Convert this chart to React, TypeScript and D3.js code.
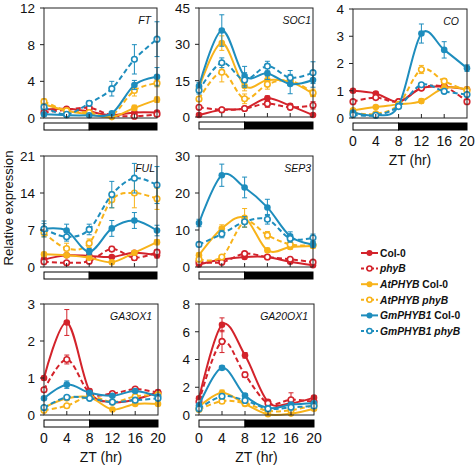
import React from "react";
import * as d3 from "d3";

const ZT = [0, 4, 8, 12, 16, 20];
const SERIES = ["Col-0", "phyB", "AtPHYB Col-0", "AtPHYB phyB", "GmPHYB1 Col-0", "GmPHYB1 phyB"];

// FT
const ftMean = [
  [0.9, 1.0, 0.7, 0.3, 0.6, 0.6],
  [0.6, 0.9, 1.1, 0.3, 0.2, 0.4],
  [1.5, 0.8, 0.4, 0.1, 1.1, 2.0],
  [1.8, 0.8, 0.6, 0.3, 3.0, 3.8],
  [0.4, 0.3, 0.3, 0.5, 3.6, 4.5],
  [1.2, 0.4, 1.6, 3.2, 6.4, 8.6],
];
const ftErr = [
  [0.1, 0.1, 0.1, 0.05, 0.1, 0.1],
  [0.1, 0.1, 0.15, 0.1, 0.1, 0.1],
  [0.2, 0.1, 0.1, 0.05, 0.3, 0.3],
  [0.3, 0.1, 0.1, 0.1, 0.6, 0.4],
  [0.2, 0.05, 0.05, 0.1, 0.5, 1.0],
  [0.3, 0.1, 0.3, 0.8, 1.6, 1.9],
];
// SOC1
const soc1Mean = [
  [0.8, 3.0, 3.5, 7.7, 4.6, 0.8],
  [4.0, 3.0, 3.5, 5.5, 4.0, 4.8],
  [12.0, 30.5, 12.8, 15.3, 14.5, 9.6],
  [7.4, 18.5, 7.5, 13.5, 15.0, 10.0],
  [12.8, 35.7, 16.9, 18.0, 13.6, 15.3],
  [11.0, 22.4, 15.3, 21.0, 16.2, 18.3],
];
const soc1Err = [
  [0.5, 0.5, 0.6, 1.0, 0.8, 0.5],
  [0.8, 0.6, 0.6, 1.5, 0.8, 1.5],
  [1.5, 3.0, 2.0, 1.5, 1.5, 1.2],
  [1.0, 4.0, 2.0, 2.0, 1.5, 1.5],
  [1.5, 6.5, 4.0, 2.5, 4.0, 3.0],
  [1.5, 2.0, 3.0, 2.0, 3.0, 4.5],
];
// CO
const coMean = [
  [1.0, 0.9, 0.6, 1.1, 1.15, 1.05],
  [0.6, 0.75, 0.6, 1.1, 1.15, 0.6],
  [0.28, 0.4, 0.5, 0.62, 1.1, 1.05],
  [0.2, 0.15, 0.5, 1.78, 1.35, 1.0],
  [0.2, 0.1, 0.45, 3.1, 2.5, 1.83],
  [0.12, 0.1, 0.42, 1.22, 0.98, 0.86],
];
const coErr = [
  [0.05, 0.06, 0.05, 0.05, 0.05, 0.04],
  [0.05, 0.05, 0.05, 0.05, 0.05, 0.05],
  [0.04, 0.05, 0.05, 0.08, 0.08, 0.05],
  [0.03, 0.03, 0.05, 0.15, 0.1, 0.08],
  [0.04, 0.03, 0.05, 0.35, 0.3, 0.12],
  [0.03, 0.03, 0.05, 0.08, 0.06, 0.05],
];
// FUL
const fulMean = [
  [1.4, 2.2, 2.1, 1.9, 2.7, 2.2],
  [1.0, 0.8, 1.1, 3.4, 1.75, 2.8],
  [2.4, 2.2, 1.75, 0.9, 2.7, 4.7],
  [6.5, 3.5, 4.5, 12.7, 14.0, 12.9],
  [7.2, 6.9, 2.9, 7.3, 8.8, 6.9],
  [7.2, 5.7, 7.1, 13.7, 16.8, 15.5],
];
const fulErr = [
  [0.5, 0.3, 0.3, 0.3, 0.3, 0.5],
  [0.3, 0.3, 0.3, 0.5, 0.5, 0.5],
  [0.4, 0.3, 0.3, 0.3, 0.4, 0.5],
  [0.8, 1.0, 0.8, 1.5, 2.8, 2.0],
  [1.5, 1.2, 0.6, 1.5, 1.5, 1.0],
  [1.0, 0.8, 1.0, 2.5, 2.8, 3.5],
];
// SEP3
const sep3Mean = [
  [0.7, 2.0, 2.7, 2.7, 1.4, 0.5],
  [1.3, 1.3, 3.6, 2.7, 2.1, 1.3],
  [3.2, 10.4, 13.3, 4.5, 5.4, 5.7],
  [2.1, 2.7, 12.2, 8.6, 6.1, 5.9],
  [11.9, 24.8, 21.5, 16.1, 8.3, 6.1],
  [6.1, 8.9, 12.2, 12.9, 7.7, 7.9],
];
const sep3Err = [
  [0.3, 0.3, 0.5, 0.4, 0.3, 0.3],
  [0.3, 0.5, 0.6, 0.5, 0.4, 0.4],
  [0.6, 1.0, 2.5, 0.6, 0.6, 0.5],
  [0.3, 0.4, 1.5, 1.0, 0.7, 0.6],
  [1.0, 3.0, 2.8, 2.2, 1.2, 0.8],
  [0.6, 1.0, 1.4, 1.3, 1.0, 1.0],
];
// GA3OX1
const ga3Mean = [
  [1.0, 2.5, 0.65, 0.35, 0.42, 0.62],
  [0.68, 1.5, 0.6, 0.58, 0.7, 0.6],
  [0.2, 0.45, 0.48, 0.15, 0.3, 0.3],
  [0.13, 0.25, 0.5, 0.35, 0.5, 0.55],
  [0.45, 0.82, 0.6, 0.52, 0.65, 0.5],
  [0.2, 0.48, 0.45, 0.35, 0.4, 0.45],
];
const ga3Err = [
  [0.05, 0.35, 0.05, 0.05, 0.05, 0.05],
  [0.05, 0.12, 0.05, 0.04, 0.04, 0.05],
  [0.03, 0.04, 0.04, 0.03, 0.03, 0.03],
  [0.02, 0.03, 0.04, 0.04, 0.04, 0.04],
  [0.04, 0.1, 0.05, 0.04, 0.05, 0.04],
  [0.03, 0.04, 0.04, 0.04, 0.04, 0.04],
];
// GA20OX1
const ga20Mean = [
  [1.2, 6.5, 4.3, 0.95, 0.85, 1.25],
  [0.95, 5.3, 2.9, 0.85, 1.1, 0.95],
  [0.6, 1.6, 0.8, 0.05, 0.1, 0.45],
  [0.4, 1.0, 0.85, 0.3, 0.35, 0.7],
  [0.7, 3.4, 1.4, 0.5, 0.75, 0.85],
  [0.45, 1.35, 1.05, 0.45, 0.55, 0.65],
];
const ga20Err = [
  [0.1, 0.5, 0.2, 0.1, 0.1, 0.1],
  [0.1, 0.8, 0.2, 0.1, 0.5, 0.1],
  [0.1, 0.2, 0.1, 0.05, 0.05, 0.1],
  [0.05, 0.15, 0.1, 0.05, 0.05, 0.1],
  [0.1, 0.15, 0.15, 0.1, 0.1, 0.1],
  [0.05, 0.15, 0.1, 0.05, 0.05, 0.1],
];

const ftTicks = [0, 4, 8, 12];
const soc1Ticks = [0, 15, 30, 45];
const coTicks = [0, 1, 2, 3, 4];
const fulTicks = [0, 7, 14, 21];
const sep3Ticks = [0, 10, 20, 30];
const ga3Ticks = [0, 1, 2, 3];
const ga20Ticks = [0, 2, 4, 6, 8];

const RED = "#d3232b";
const ORANGE = "#f8b31a";
const BLUE = "#1e8dbd";
const COLORS = [RED, RED, ORANGE, ORANGE, BLUE, BLUE];
const DASHED = [false, true, false, true, false, true];

const FONT = "'Liberation Sans', Arial, sans-serif";

type PanelDef = {
  gene: string;
  mean: number[][];
  err: number[][];
  ticks: number[];
  x: number;
  y: number;
  w: number;
  h: number;
  xLabels: boolean;
  labelDx: number;
};

const panels: PanelDef[] = [
  { gene: "FT", mean: ftMean, err: ftErr, ticks: ftTicks, x: 44, y: 8, w: 113, h: 110, xLabels: false, labelDx: 6 },
  { gene: "SOC1", mean: soc1Mean, err: soc1Err, ticks: soc1Ticks, x: 199, y: 8, w: 114, h: 109, xLabels: false, labelDx: 2 },
  { gene: "CO", mean: coMean, err: coErr, ticks: coTicks, x: 353, y: 9, w: 114, h: 109, xLabels: true, labelDx: 8 },
  { gene: "FUL", mean: fulMean, err: fulErr, ticks: fulTicks, x: 44, y: 156, w: 113, h: 111, xLabels: false, labelDx: 2 },
  { gene: "SEP3", mean: sep3Mean, err: sep3Err, ticks: sep3Ticks, x: 199, y: 156, w: 114, h: 111, xLabels: false, labelDx: 2 },
  { gene: "GA3OX1", mean: ga3Mean, err: ga3Err, ticks: ga3Ticks, x: 44, y: 304, w: 114, h: 111, xLabels: true, labelDx: 6 },
  { gene: "GA20OX1", mean: ga20Mean, err: ga20Err, ticks: ga20Ticks, x: 199, y: 304, w: 115, h: 111, xLabels: true, labelDx: 6 },
];

function Panel({ p }: { p: PanelDef }) {
  const xs = d3.scaleLinear().domain([0, 20]).range([p.x, p.x + p.w]);
  const ys = d3.scaleLinear().domain([0, p.ticks[p.ticks.length - 1]]).range([p.y + p.h, p.y]);
  const line = d3
    .line<number>()
    .x((_, i) => xs(ZT[i]))
    .y((v) => ys(v))
    .curve(d3.curveCardinal.tension(0));
  const bottom = p.y + p.h;
  return (
    <g>
      {p.mean.map((vals, si) => (
        <g key={si}>
          <path
            d={line(vals) || ""}
            fill="none"
            stroke={COLORS[si]}
            strokeWidth={2}
            strokeDasharray={DASHED[si] ? "5,3" : undefined}
          />
          {vals.map((v, i) => {
            const e = p.err[si][i];
            const cx = xs(ZT[i]);
            return (
              <g key={i}>
                <line x1={cx} x2={cx} y1={ys(v - e)} y2={ys(v + e)} stroke={COLORS[si]} strokeWidth={1} />
                <line x1={cx - 2.5} x2={cx + 2.5} y1={ys(v - e)} y2={ys(v - e)} stroke={COLORS[si]} strokeWidth={1} />
                <line x1={cx - 2.5} x2={cx + 2.5} y1={ys(v + e)} y2={ys(v + e)} stroke={COLORS[si]} strokeWidth={1} />
                <circle
                  cx={cx}
                  cy={ys(v)}
                  r={DASHED[si] ? 2.8 : 3.3}
                  fill={DASHED[si] ? "#fff" : COLORS[si]}
                  stroke={COLORS[si]}
                  strokeWidth={DASHED[si] ? 1.6 : 0}
                />
              </g>
            );
          })}
        </g>
      ))}
      <rect x={p.x} y={p.y} width={p.w} height={p.h} fill="none" stroke="#222" strokeWidth={1} />
      {p.ticks.map((t) => (
        <g key={t}>
          <line x1={p.x - 4} x2={p.x} y1={ys(t)} y2={ys(t)} stroke="#222" />
          <text
            x={p.x - 9}
            y={ys(t)}
            dy="0.36em"
            textAnchor="end"
            fontSize={13.5}
            fontFamily={FONT}
            fill="#111"
          >
            {t}
          </text>
        </g>
      ))}
      {ZT.slice(1, -1).map((t) => (
        <line key={t} x1={xs(t)} x2={xs(t)} y1={bottom} y2={bottom - 4} stroke="#222" />
      ))}
      <rect x={xs(0)} y={bottom + 5} width={xs(8) - xs(0)} height={7} fill="#fff" stroke="#000" strokeWidth={1} />
      <rect x={xs(8)} y={bottom + 5} width={xs(20) - xs(8)} height={7} fill="#000" stroke="#000" strokeWidth={1} />
      {p.xLabels && (
        <g>
          {ZT.map((t) => (
            <text
              key={t}
              x={xs(t)}
              y={bottom + 28}
              textAnchor="middle"
              fontSize={14}
              fontFamily={FONT}
              fill="#111"
            >
              {t}
            </text>
          ))}
          <text
            x={p.x + p.w / 2}
            y={bottom + 47}
            textAnchor="middle"
            fontSize={14}
            fontFamily={FONT}
            fill="#111"
          >
            ZT (hr)
          </text>
        </g>
      )}
      <text
        x={p.x + p.w - p.labelDx}
        y={p.y + 16}
        textAnchor="end"
        fontSize={10.5}
        fontStyle="italic"
        fontFamily={FONT}
        fill="#111"
      >
        {p.gene}
      </text>
    </g>
  );
}

function Legend() {
  const x0 = 361;
  const y0 = 253;
  const dy = 15.6;
  return (
    <g>
      {SERIES.map((s, i) => {
        const y = y0 + i * dy;
        const parts = s.split(" ");
        return (
          <g key={s}>
            <line
              x1={x0}
              x2={x0 + 17}
              y1={y}
              y2={y}
              stroke={COLORS[i]}
              strokeWidth={2}
              strokeDasharray={DASHED[i] ? "3,2" : undefined}
            />
            <circle
              cx={x0 + 8.5}
              cy={y}
              r={DASHED[i] ? 2.5 : 3}
              fill={DASHED[i] ? "#fff" : COLORS[i]}
              stroke={COLORS[i]}
              strokeWidth={DASHED[i] ? 1.5 : 0}
            />
            <text x={x0 + 19} y={y} dy="0.36em" fontSize={10.3} fontWeight="bold" fontFamily={FONT} fill="#111">
              {parts.length === 1 ? (
                <tspan fontStyle={s === "Col-0" ? "normal" : "italic"}>{s}</tspan>
              ) : (
                <>
                  <tspan fontStyle="italic">{parts[0]}</tspan>
                  <tspan fontStyle={parts[1] === "phyB" ? "italic" : "normal"}>{" " + parts[1]}</tspan>
                </>
              )}
            </text>
          </g>
        );
      })}
    </g>
  );
}

export default function App() {
  return (
    <div style={{ position: "absolute", left: 0, top: 0 }}>
      <svg width={476} height={466} style={{ display: "block", background: "#fff" }}>
        <rect x={0} y={0} width={476} height={466} fill="#fff" />
        {panels.map((p) => (
          <Panel key={p.gene} p={p} />
        ))}
        <text
          transform="translate(13,208) rotate(-90)"
          textAnchor="middle"
          fontSize={13.2}
          fontFamily={FONT}
          fill="#111"
        >
          Relative expression
        </text>
        <Legend />
      </svg>
    </div>
  );
}
